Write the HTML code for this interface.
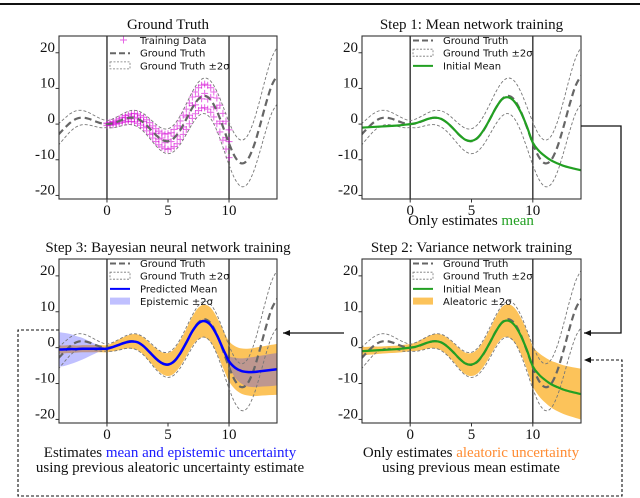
<!DOCTYPE html>
<html><head><meta charset="utf-8">
<style>
html,body{margin:0;padding:0;background:#fff;}
svg{display:block;}
.ser{font-family:"Liberation Serif",serif;}
.san{font-family:"DejaVu Sans","Liberation Sans",sans-serif;}
</style></head>
<body>
<svg id="fig" width="640" height="498" viewBox="0 0 640 498" xmlns="http://www.w3.org/2000/svg">
<line x1="0" y1="4" x2="640" y2="4" stroke="#111" stroke-width="2"/>
</svg>
<script>
// ---------- data ----------
const xs = [-4,-3.5,-3,-2.5,-2,-1.5,-1,-0.5,0,0.5,1,1.5,2,2.5,3,3.5,4,4.5,5,5.5,6,6.5,7,7.5,8,8.5,9,9.5,10,10.5,11,11.5,12,12.5,13,13.5,14];
const groundTruth = [-3.03,-1.23,0.42,1.50,1.82,1.50,0.84,0.24,0,0.24,0.84,1.50,1.82,1.50,0.42,-1.23,-3.03,-4.40,-4.80,-3.88,-1.68,1.40,4.60,7.04,7.92,6.79,3.71,-0.71,-5.44,-9.24,-11.0,-10.07,-6.44,-0.83,5.46,10.85,13.87];
const gtTwoSigma = [3,2.75,2.5,2.25,2,1.75,1.5,1.25,1,1.25,1.5,1.75,2,2.25,2.5,2.75,3,3.25,3.5,3.75,4,4.25,4.5,4.75,5,5.25,5.5,5.75,6,6.25,6.5,6.75,7,7.25,7.5,7.75,8];
const initialMean = [-1.0,-0.9,-0.8,-0.7,-0.6,-0.5,-0.4,-0.2,0,0.3,0.9,1.5,1.8,1.5,0.4,-1.2,-3.0,-4.4,-4.7,-3.8,-1.6,1.4,4.6,7.0,7.5,6.3,3.5,-0.5,-5.2,-7.5,-9.0,-10.2,-11.0,-11.7,-12.2,-12.6,-13.0];
const aleatoricHalf = [1.2,1.1,1.1,1.0,1.0,1.0,1.0,1.0,1.0,1.2,1.5,1.7,2.0,2.2,2.4,2.6,2.8,3.0,3.2,3.4,3.6,3.8,4.1,4.4,4.6,4.8,5.0,5.3,5.6,6.0,6.3,6.5,6.7,6.8,6.9,7.0,7.1];
const predictedMean = [-0.5,-0.5,-0.4,-0.4,-0.3,-0.3,-0.3,-0.3,-0.3,0.2,0.8,1.4,1.7,1.5,0.4,-1.3,-3.0,-4.3,-4.7,-3.8,-1.6,1.4,4.6,6.8,7.4,6.3,3.5,-0.3,-3.8,-5.6,-6.5,-6.8,-6.8,-6.6,-6.4,-6.2,-6.0];
const epistemicHalf = [4.8,4.6,4.2,3.6,3.0,2.2,1.4,0.6,0.2,0.3,0.3,0.3,0.3,0.3,0.3,0.3,0.3,0.3,0.3,0.3,0.3,0.3,0.3,0.3,0.3,0.3,0.3,0.5,1.5,2.8,3.5,4.0,4.2,4.3,4.4,4.5,4.5];
const dataX = [0,0.25,0.5,0.75,1,1.25,1.5,1.75,2,2.25,2.5,2.75,3,3.25,3.5,3.75,4,4.25,4.5,4.75,5,5.25,5.5,5.75,6,6.25,6.5,6.75,7,7.25,7.5,7.75,8,8.25,8.5,8.75,9,9.25,9.5,9.75,10];
const dataY1 = [0.3,0.5,0.7,1.1,1.5,1.9,2.4,2.6,2.9,3.0,2.8,2.4,1.9,1.2,0.4,-0.5,-1.3,-2.0,-2.5,-2.8,-2.7,-2.4,-1.5,-0.5,0.9,2.5,4.2,5.9,7.6,9.0,10.2,10.9,11.2,10.9,10.2,9.0,7.3,5.3,3.0,0.8,-1.6];
const dataY2 = [-0.4,-0.3,-0.2,0.0,0.2,0.5,0.6,0.8,0.7,0.6,0.2,-0.3,-1.0,-1.9,-2.9,-3.9,-4.9,-5.8,-6.4,-6.9,-7.1,-6.8,-6.3,-5.5,-4.3,-2.9,-1.5,0.1,1.6,2.9,3.8,4.5,4.6,4.2,3.3,2.0,0.1,-2.2,-4.5,-7.0,-9.4];
const dataY3 = [0.1,-0.1,0.4,0.3,0.9,1.0,1.8,1.4,2.2,1.5,1.9,0.8,0.7,-0.6,-1.0,-2.5,-2.6,-4.2,-3.9,-5.2,-4.4,-4.9,-3.4,-3.3,-1.2,-0.8,2.0,2.5,5.2,5.4,7.8,7.1,8.6,7.0,7.5,4.8,4.5,0.8,0.1,-3.8,-4.9];
const xTicks = [0,5,10];
const yTicks = [20,10,0,-10,-20];
const yTickLabels = ["20","10","0","-10","-20"];

// ---------- helpers ----------
const NS = "http://www.w3.org/2000/svg";
const fig = document.getElementById('fig');
function mk(tag, attrs, parent){
  const e = document.createElementNS(NS, tag);
  for (const k in attrs) e.setAttribute(k, attrs[k]);
  (parent||fig).appendChild(e);
  return e;
}
function smooth(pts){
  let d = "M"+pts[0][0].toFixed(2)+","+pts[0][1].toFixed(2);
  for (let i=0;i<pts.length-1;i++){
    const p0=pts[Math.max(0,i-1)], p1=pts[i], p2=pts[i+1], p3=pts[Math.min(pts.length-1,i+2)];
    const c1=[p1[0]+(p2[0]-p0[0])/6, p1[1]+(p2[1]-p0[1])/6];
    const c2=[p2[0]-(p3[0]-p1[0])/6, p2[1]-(p3[1]-p1[1])/6];
    d += "C"+c1[0].toFixed(2)+","+c1[1].toFixed(2)+" "+c2[0].toFixed(2)+","+c2[1].toFixed(2)+" "+p2[0].toFixed(2)+","+p2[1].toFixed(2);
  }
  return d;
}
function smoothCont(pts){ return smooth(pts).replace(/^M/,"L"); }

let clipId = 0;
function panel(cfg){
  const g = mk('g', {});
  
  
  const L=cfg.left, R=cfg.right, T=cfg.top, B=cfg.bottom;
  const sx = v => L + (v - (-3.93)) * (R-L)/(13.93+3.93);
  const sy = v => B - (v - (-21)) * (B-T)/(24.7+21);
  const cid = 'clip'+(clipId++);
  const cp = mk('clipPath', {id:cid}, g);
  mk('rect', {x:L, y:T, width:R-L, height:B-T}, cp);
  const plot = mk('g', {'clip-path':'url(#'+cid+')'}, g);
  const line = (arr) => smooth(xs.map((x,i)=>[sx(x), sy(arr[i])]));
  const band = (c, h) => {
    const up = xs.map((x,i)=>[sx(x), sy(c[i]+h[i])]);
    const lo = xs.map((x,i)=>[sx(x), sy(c[i]-h[i])]).reverse();
    return smooth(up) + smoothCont(lo) + "Z";
  };
  if (cfg.aleatoric){
    const a = mk('path', {d:band(cfg.aleatoric, aleatoricHalf), fill:'#fcc35a', stroke:'none'}, plot);
    
    
  }
  if (cfg.epistemic){
    const e = mk('path', {d:band(predictedMean, epistemicHalf), fill:'#3b3bff', 'fill-opacity':'0.32', stroke:'none'}, plot);
    
    
  }
  // vertical lines at 0 and 10
  [0,10].forEach(v=>{
    const vl = mk('line', {x1:sx(v), x2:sx(v), y1:T, y2:B, stroke:'#333', 'stroke-width':1.4}, plot);
    
    
  });
  if (cfg.scatter){
    [dataY1,dataY2,dataY3].forEach(arr=>{
      dataX.forEach((x,i)=>{
        const px=sx(x), py=sy(arr[i]);
        const m = mk('path', {d:`M${px-3.5},${py}H${px+3.5}M${px},${py-3.5}V${py+3.5}`, stroke:'#d400d4', 'stroke-opacity':0.55, 'stroke-width':1.1}, plot);
        
        
      });
    });
  }
  // GT bands
  const up = xs.map((x,i)=>groundTruth[i]+gtTwoSigma[i]);
  const lo = xs.map((x,i)=>groundTruth[i]-gtTwoSigma[i]);
  [up,lo].forEach(arr=>{
    const p = mk('path', {d:line(arr), fill:'none', stroke:'#777', 'stroke-width':0.9, 'stroke-dasharray':'3,2'}, plot);
    
    
  });
  const gt = mk('path', {d:line(groundTruth), fill:'none', stroke:'#666', 'stroke-width':2.2, 'stroke-dasharray':'7,4'}, plot);
  
  
  if (cfg.green){
    const gm = mk('path', {d:line(initialMean), fill:'none', stroke:'#22a022', 'stroke-width':2.2}, plot);
    
    
  }
  if (cfg.blue){
    const bm = mk('path', {d:line(predictedMean), fill:'none', stroke:'#0000ff', 'stroke-width':2.5}, plot);
    
    
  }
  // frame
  const fr = mk('rect', {x:L, y:T, width:R-L, height:B-T, fill:'none', stroke:'#333', 'stroke-width':1.1}, g);
  
  
  // ticks
  xTicks.forEach(v=>{
    mk('line', {x1:sx(v), x2:sx(v), y1:B, y2:B+3.5, stroke:'#333'}, g);
    const t = mk('text', {x:sx(v), y:B+16, 'text-anchor':'middle', 'font-size':15, class:'ser', fill:'#111'}, g);
    t.textContent = String(v);
    
    
  });
  yTicks.forEach((v,i)=>{
    mk('line', {x1:L-3.5, x2:L, y1:sy(v), y2:sy(v), stroke:'#333'}, g);
    const t = mk('text', {x:L-4, y:sy(v)-1, 'text-anchor':'end', 'font-size':15, class:'ser', fill:'#111'}, g);
    t.textContent = yTickLabels[i];
    
    
  });
  // title
  const ti = mk('text', {x:(L+R)/2, y:T-7, 'text-anchor':'middle', 'font-size':15, class:'ser', fill:'#111'}, g);
  ti.textContent = cfg.title;
  
  
  // legend
  const lx = cfg.legendX, ly = T+8;
  cfg.legend.forEach((item,i)=>{
    const y = ly + i*12.7;
    const sw = lx-30;
    if (item.k==='scatter') mk('path', {d:`M${sw+10},${y-4}h7M${sw+13.5},${y-7.5}v7`, stroke:'#d400d4','stroke-opacity':0.6}, g);
    if (item.k==='gt') mk('line', {x1:sw, x2:sw+20, y1:y-3.5, y2:y-3.5, stroke:'#666','stroke-width':2,'stroke-dasharray':'6,3'}, g);
    if (item.k==='gtb') mk('rect', {x:sw, y:y-7.5, width:20, height:7, fill:'none', stroke:'#777','stroke-width':0.8,'stroke-dasharray':'2,1.5'}, g);
    if (item.k==='green') mk('line', {x1:sw, x2:sw+20, y1:y-3.5, y2:y-3.5, stroke:'#22a022','stroke-width':2}, g);
    if (item.k==='blue') mk('line', {x1:sw, x2:sw+20, y1:y-3.5, y2:y-3.5, stroke:'#0000ff','stroke-width':2}, g);
    if (item.k==='orange') mk('rect', {x:sw, y:y-7.5, width:20, height:7, fill:'#fcc35a'}, g);
    if (item.k==='epi') mk('rect', {x:sw, y:y-7.5, width:20, height:7, fill:'#3b3bff','fill-opacity':0.32}, g);
    const t = mk('text', {x:lx, y:y, 'font-size':10, class:'san', fill:'#111'}, g);
    t.textContent = item.t;
    
    
  });
}

panel({name:'ground-truth-panel', left:59, right:277, top:36, bottom:199, title:'Ground Truth', scatter:true, legendX:140,
  legend:[{k:'scatter',t:'Training Data'},{k:'gt',t:'Ground Truth'},{k:'gtb',t:'Ground Truth ±2σ'}]});
panel({name:'step1-panel', left:362, right:581, top:36, bottom:199, title:'Step 1: Mean network training', green:true, legendX:443,
  legend:[{k:'gt',t:'Ground Truth'},{k:'gtb',t:'Ground Truth ±2σ'},{k:'green',t:'Initial Mean'}]});
panel({name:'step3-panel', left:59, right:277, top:259, bottom:423, title:'Step 3: Bayesian neural network training', aleatoric:predictedMean, epistemic:true, blue:true, legendX:140,
  legend:[{k:'gt',t:'Ground Truth'},{k:'gtb',t:'Ground Truth ±2σ'},{k:'blue',t:'Predicted Mean'},{k:'epi',t:'Epistemic ±2σ'}]});
panel({name:'step2-panel', left:362, right:581, top:259, bottom:423, title:'Step 2: Variance network training', aleatoric:initialMean, green:true, legendX:443,
  legend:[{k:'gt',t:'Ground Truth'},{k:'gtb',t:'Ground Truth ±2σ'},{k:'green',t:'Initial Mean'},{k:'orange',t:'Aleatoric ±2σ'}]});

// captions
function caption(x,y,parts,name){
  const t = mk('text', {x:x, y:y, 'text-anchor':'middle', 'font-size':15, class:'ser', fill:'#111'});
  
  
  parts.forEach(p=>{ const s = mk('tspan', {fill:p[1]||'#111'}, t); s.textContent = p[0]; });
}
caption(471,225,[["Only estimates "],["mean","#22a022"]],'step1-caption');
caption(471,457,[["Only estimates "],["aleatoric uncertainty","#ff8c33"]],'step2-caption-line1');
caption(471,472,[["using previous mean estimate"]],'step2-caption-line2');
caption(170,457,[["Estimates "],["mean and epistemic uncertainty","#1a1aff"]],'step3-caption-line1');
caption(170,472,[["using previous aleatoric uncertainty estimate"]],'step3-caption-line2');

// connectors
const defs = mk('defs', {});
const mkr = mk('marker', {id:'ah', markerWidth:8, markerHeight:8, refX:7, refY:4, orient:'auto', markerUnits:'userSpaceOnUse'}, defs);
mk('path', {d:'M0,1L7,4L0,7Z', fill:'#111'}, mkr);
const c1 = mk('path', {d:'M581,126H621V333H584', fill:'none', stroke:'#111', 'stroke-width':1.3, 'marker-end':'url(#ah)'});


const c2 = mk('path', {d:'M344,333H283', fill:'none', stroke:'#111', 'stroke-width':1.3, 'marker-end':'url(#ah)'});


const c3 = mk('path', {d:'M59,330H18V496H622V360H584', fill:'none', stroke:'#111', 'stroke-width':1.1, 'stroke-dasharray':'3,2', 'marker-end':'url(#ah)'});


</script>
</body></html>
